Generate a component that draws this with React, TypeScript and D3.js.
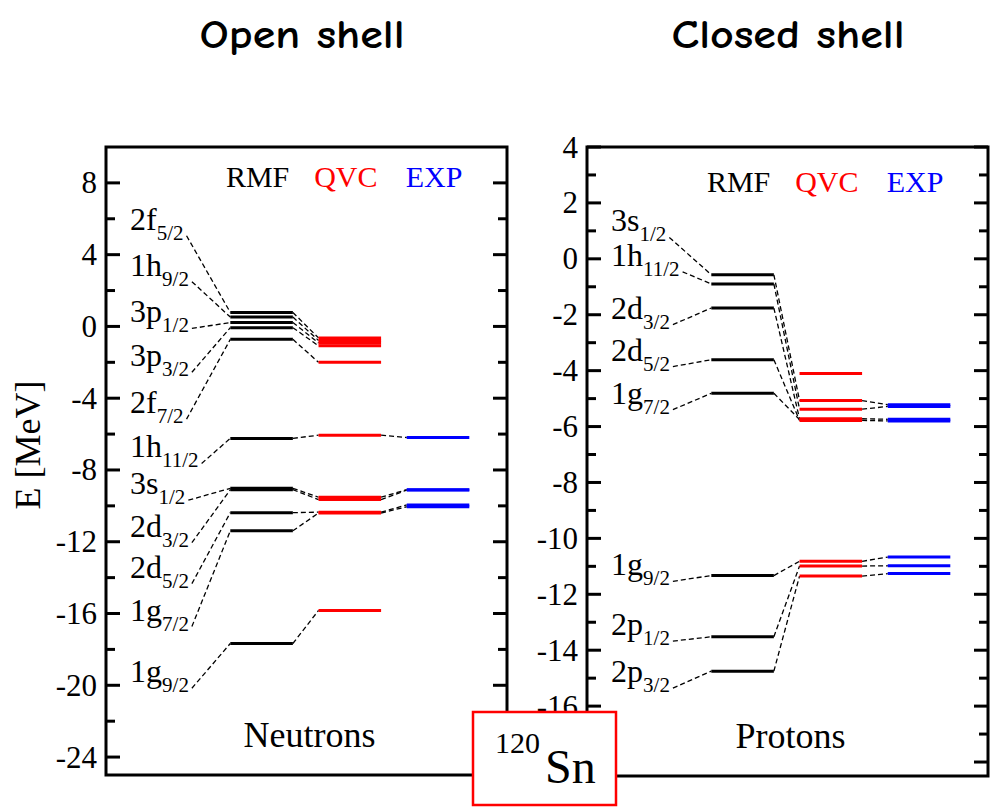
import React from "react";
import * as d3 from "d3";

// ---------- Data ----------
// Neutrons (open shell)
const nOrb = ["2f", "1h", "3p", "3p", "2f", "1h", "3s", "2d", "2d", "1g", "1g"];
const nSub = ["5/2", "9/2", "1/2", "3/2", "7/2", "11/2", "1/2", "3/2", "5/2", "7/2", "9/2"];
const nLabelE = [5.39, 2.83, 0.22, -2.22, -4.83, -7.3, -9.35, -11.72, -14.0, -16.39, -19.83];
const nRMF = [0.78, 0.52, 0.22, -0.07, -0.72, -6.24, -9.02, -9.1, -10.38, -11.39, -17.67];
const nQVC = [-0.64, -0.78, -0.92, -1.08, -2.0, -6.06, -9.52, -9.65, -10.35, -10.4, -15.83];
const nEXP: (number | null)[] = [null, null, null, null, null, -6.19, -9.1, -9.12, -9.95, -10.05, null];
const nTicksLabeled = [8, 4, 0, -4, -8, -12, -16, -20, -24];
const nTicksMinor = [6, 2, -2, -6, -10, -14, -18, -22];

// Protons (closed shell)
const pOrb = ["3s", "1h", "2d", "2d", "1g", "1g", "2p", "2p"];
const pSub = ["1/2", "11/2", "3/2", "5/2", "7/2", "9/2", "1/2", "3/2"];
const pLabelE = [0.98, -0.25, -2.14, -3.64, -5.18, -11.32, -13.46, -15.14];
const pRMF = [-0.57, -0.9, -1.76, -3.61, -4.81, -11.33, -13.52, -14.75];
const pQVC = [-5.07, -5.38, -5.72, -5.78, -5.75, -10.82, -10.99, -11.35];
const pEXP: (number | null)[] = [-5.22, -5.28, -5.74, -5.8, null, -10.67, -10.98, -11.26];
const pQVCextra = [-4.1];
// -18 major tick exists but its label is hidden under the 120Sn box
const pTicksLabeled = [4, 2, 0, -2, -4, -6, -8, -10, -12, -14, -16];
const pTicksUnlabeledMajor = [-18];
const pTicksMinor = [3, 1, -1, -3, -5, -7, -9, -11, -13, -15, -17];

const methods = ["RMF", "QVC", "EXP"];
const methodColors = ["#000000", "#ff0000", "#0000ff"];

// ---------- helpers ----------
const SERIF = "'Liberation Serif', 'Times New Roman', serif";
let ctx: CanvasRenderingContext2D | null = null;
function measure(txt: string, size: number) {
  if (!ctx) ctx = document.createElement("canvas").getContext("2d");
  if (!ctx) return txt.length * size * 0.5;
  ctx.font = `${size}px ${SERIF}`;
  return ctx.measureText(txt).width;
}

type PanelProps = {
  left: number; right: number; top: number; bottom: number;
  domain: [number, number];
  labeled: number[]; unlabeled?: number[]; minor: number[];
  orb: string[]; sub: string[]; labelE: number[];
  rmf: number[]; qvc: number[]; exp: (number | null)[];
  qvcExtra?: number[];
  headerDy: number;
  name: string;
};

function Panel(p: PanelProps) {
  const y = d3.scaleLinear().domain(p.domain).range([p.top, p.bottom]);
  const x = d3.scaleLinear().domain([0, 100]).range([p.left, p.right]);
  const cols: [number, number][] = [[31, 46.6], [53, 68.6], [75, 90.6]];
  const labelX = x(6);
  const mainSize = 32, subSize = 21;
  const dash = { stroke: "#000", strokeWidth: 1.3, strokeDasharray: "5 3", fill: "none" };
  const barW = 3;
  const elems: React.ReactNode[] = [];

  p.rmf.forEach((r, i) => {
    const ly = y(p.labelE[i]);
    const w = measure(p.orb[i], mainSize) + measure(p.sub[i], subSize);
    elems.push(
      <text key={`l${i}`} x={labelX} y={ly} fontFamily={SERIF} fontSize={mainSize}>
        {p.orb[i]}
        <tspan dy={10} fontSize={subSize}>{p.sub[i]}</tspan>
      </text>
    );
    elems.push(<line key={`dl${i}`} x1={labelX + w + 3} y1={ly + 6} x2={x(cols[0][0])} y2={y(r)} style={dash} />);
    const q = p.qvc[i];
    if (q != null) {
      elems.push(<line key={`dq${i}`} x1={x(cols[0][1])} y1={y(r)} x2={x(cols[1][0])} y2={y(q)} style={dash} />);
      const e = p.exp[i];
      if (e != null) {
        elems.push(<line key={`de${i}`} x1={x(cols[1][1])} y1={y(q)} x2={x(cols[2][0])} y2={y(e)} style={dash} />);
      }
    }
  });
  const bars: React.ReactNode[] = [];
  const addBar = (k: string, c: number, v: number) =>
    bars.push(<line key={k} x1={x(cols[c][0])} x2={x(cols[c][1])} y1={y(v)} y2={y(v)} stroke={methodColors[c]} strokeWidth={barW} />);
  p.rmf.forEach((v, i) => addBar(`br${i}`, 0, v));
  p.qvc.forEach((v, i) => addBar(`bq${i}`, 1, v));
  (p.qvcExtra || []).forEach((v, i) => addBar(`bqx${i}`, 1, v));
  p.exp.forEach((v, i) => { if (v != null) addBar(`be${i}`, 2, v); });

  const tickEls: React.ReactNode[] = [];
  const majorTick = (t: number, withLabel: boolean) => {
    const ty = y(t);
    tickEls.push(<line key={`tm${t}`} x1={p.left} x2={p.left + 14} y1={ty} y2={ty} stroke="#000" strokeWidth={3} />);
    tickEls.push(<line key={`tmr${t}`} x1={p.right} x2={p.right - 14} y1={ty} y2={ty} stroke="#000" strokeWidth={3} />);
    if (withLabel)
      tickEls.push(
        <text key={`tl${t}`} x={p.left - 9} y={ty} textAnchor="end" dominantBaseline="central" fontFamily={SERIF} fontSize={31}>
          {t}
        </text>
      );
  };
  p.labeled.forEach((t) => majorTick(t, true));
  (p.unlabeled || []).forEach((t) => majorTick(t, false));
  p.minor.forEach((t) => {
    const ty = y(t);
    tickEls.push(<line key={`tn${t}`} x1={p.left} x2={p.left + 9} y1={ty} y2={ty} stroke="#000" strokeWidth={3} />);
    tickEls.push(<line key={`tnr${t}`} x1={p.right} x2={p.right - 9} y1={ty} y2={ty} stroke="#000" strokeWidth={3} />);
  });

  return (
    <g>
      {tickEls}
      <rect x={p.left} y={p.top} width={p.right - p.left} height={p.bottom - p.top} fill="none" stroke="#000" strokeWidth={3} />
      {methods.map((m, c) => (
        <text key={m} x={(x(cols[c][0]) + x(cols[c][1])) / 2 - 4} y={p.top + p.headerDy} textAnchor="middle"
          fontFamily={SERIF} fontSize={30} fill={methodColors[c]}>
          {m}
        </text>
      ))}
      {elems}
      {bars}
      <text x={(p.left + p.right) / 2 + 3} y={p.bottom - 28} textAnchor="middle" fontFamily={SERIF} fontSize={36}>
        {p.name}
      </text>
    </g>
  );
}

export default function App() {
  const titleFont = "'Comic Sans MS', 'Comic Neue', 'Open Sans', sans-serif";
  return (
    <svg width={1000} height={807} style={{ position: "absolute", left: 0, top: 0, background: "#fff" }}>
      <rect x={0} y={0} width={1000} height={807} fill="#fff" />
      <text x={302} y={48} textAnchor="middle" fontFamily={titleFont} fontWeight={600} fontSize={40} textLength={205} lengthAdjust="spacingAndGlyphs">
        Open shell
      </text>
      <text x={788} y={48} textAnchor="middle" fontFamily={titleFont} fontWeight={600} fontSize={40} textLength={233} lengthAdjust="spacingAndGlyphs">
        Closed shell
      </text>
      <Panel left={106} right={507} top={147} bottom={775} domain={[10, -25]}
        labeled={nTicksLabeled} minor={nTicksMinor}
        orb={nOrb} sub={nSub} labelE={nLabelE} rmf={nRMF} qvc={nQVC} exp={nEXP}
        headerDy={40} name="Neutrons" />
      <Panel left={587} right={988} top={147} bottom={776} domain={[4, -18.5]}
        labeled={pTicksLabeled} unlabeled={pTicksUnlabeledMajor} minor={pTicksMinor}
        orb={pOrb} sub={pSub} labelE={pLabelE} rmf={pRMF} qvc={pQVC} exp={pEXP} qvcExtra={pQVCextra}
        headerDy={45} name="Protons" />
      <text transform="translate(40,445) rotate(-90)" textAnchor="middle" fontFamily={SERIF} fontSize={36}>
        E [MeV]
      </text>
      <rect x={473} y={712} width={143} height={93} fill="#fff" stroke="#ff0000" strokeWidth={2.5} />
      <text x={495} y={753} fontFamily={SERIF} fontSize={30}>120</text>
      <text x={545} y={783} fontFamily={SERIF} fontSize={48}>Sn</text>
    </svg>
  );
}
